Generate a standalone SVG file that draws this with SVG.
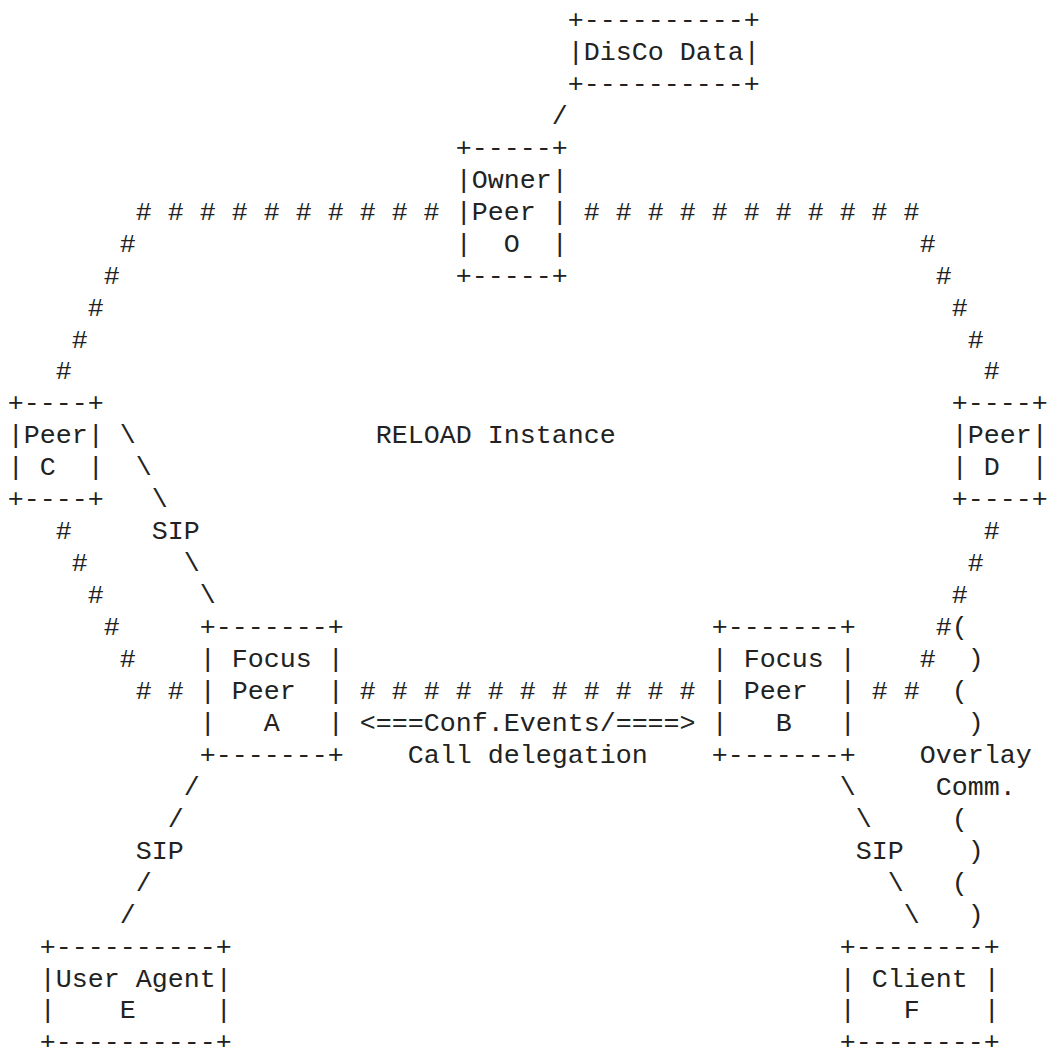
<svg xmlns="http://www.w3.org/2000/svg" width="1049" height="1047" viewBox="0 0 1049 1047">
<style>
text{font-family:"Liberation Mono","DejaVu Sans Mono",monospace;font-size:26.67px;fill:#222;white-space:pre}
</style>
<rect width="1049" height="1047" fill="#fff"/>
<g id="disco-data" xml:space="preserve">
<text x="567.7" y="28">+----------+</text>
<text x="567.7" y="60">|DisCo Data|</text>
<text x="567.7" y="91.9">+----------+</text>
</g>
<g id="owner-peer-o" xml:space="preserve">
<text x="455.7" y="155.8">+-----+</text>
<text x="455.7" y="187.75">|Owner|</text>
<text x="455.7" y="219.7">|Peer |</text>
<text x="455.7" y="251.65">|  O  |</text>
<text x="455.7" y="283.6">+-----+</text>
</g>
<g id="peer-c" xml:space="preserve">
<text x="7.7" y="411.4">+----+</text>
<text x="7.7" y="443.35">|Peer|</text>
<text x="7.7" y="475.3">| C  |</text>
<text x="7.7" y="507.25">+----+</text>
</g>
<g id="peer-d" xml:space="preserve">
<text x="951.7" y="411.4">+----+</text>
<text x="951.7" y="443.35">|Peer|</text>
<text x="951.7" y="475.3">| D  |</text>
<text x="951.7" y="507.25">+----+</text>
</g>
<g id="focus-peer-a" xml:space="preserve">
<text x="199.7" y="635.05">+-------+</text>
<text x="199.7" y="667">| Focus |</text>
<text x="199.7" y="698.95">| Peer  |</text>
<text x="199.7" y="730.9">|   A   |</text>
<text x="199.7" y="762.85">+-------+</text>
</g>
<g id="focus-peer-b" xml:space="preserve">
<text x="711.7" y="635.05">+-------+</text>
<text x="711.7" y="667">| Focus |</text>
<text x="711.7" y="698.95">| Peer  |</text>
<text x="711.7" y="730.9">|   B   |</text>
<text x="711.7" y="762.85">+-------+</text>
</g>
<g id="user-agent-e" xml:space="preserve">
<text x="39.7" y="954.55">+----------+</text>
<text x="39.7" y="986.5">|User Agent|</text>
<text x="39.7" y="1018.45">|    E     |</text>
<text x="39.7" y="1050.4">+----------+</text>
</g>
<g id="client-f" xml:space="preserve">
<text x="839.7" y="954.55">+--------+</text>
<text x="839.7" y="986.5">| Client |</text>
<text x="839.7" y="1018.45">|   F    |</text>
<text x="839.7" y="1050.4">+--------+</text>
</g>
<g id="reload-instance">
<text x="375.7" y="443.35">RELOAD Instance</text>
</g>
<g id="connectors" xml:space="preserve">
<text x="551.7" y="123.85">/</text>
<text x="135.7" y="219.7"># # # # # # # # # #</text>
<text x="583.7" y="219.7"># # # # # # # # # # #</text>
<text x="119.7" y="251.65">#</text><text x="919.7" y="251.65">#</text>
<text x="103.7" y="283.6">#</text><text x="935.7" y="283.6">#</text>
<text x="87.7" y="315.55">#</text><text x="951.7" y="315.55">#</text>
<text x="71.7" y="347.5">#</text><text x="967.7" y="347.5">#</text>
<text x="55.7" y="379.45">#</text><text x="983.7" y="379.45">#</text>
<text x="55.7" y="539.2">#</text><text x="983.7" y="539.2">#</text>
<text x="71.7" y="571.15">#</text><text x="967.7" y="571.15">#</text>
<text x="87.7" y="603.1">#</text><text x="951.7" y="603.1">#</text>
<text x="103.7" y="635.05">#</text><text x="935.7" y="635.05">#(</text>
<text x="119.7" y="667">#</text><text x="919.7" y="667">#  )</text>
<text x="135.7" y="698.95"># #</text>
<text x="359.7" y="698.95"># # # # # # # # # # #</text>
<text x="871.7" y="698.95"># #  (</text>
<text x="359.7" y="730.9">&lt;===Conf.Events/====&gt;</text>
<text x="967.7" y="730.9">)</text>
<text x="407.7" y="762.85">Call delegation</text>
<text x="919.7" y="762.85">Overlay</text>
<text x="935.7" y="794.8">Comm.</text>
<text x="951.7" y="826.75">(</text>
<text x="967.7" y="858.7">)</text>
<text x="951.7" y="890.65">(</text>
<text x="967.7" y="922.6">)</text>
<text x="119.7" y="443.35">\</text>
<text x="135.7" y="475.3">\</text>
<text x="151.7" y="507.25">\</text>
<text x="151.7" y="539.2">SIP</text>
<text x="183.7" y="571.15">\</text>
<text x="199.7" y="603.1">\</text>
<text x="183.7" y="794.8">/</text>
<text x="167.7" y="826.75">/</text>
<text x="135.7" y="858.7">SIP</text>
<text x="135.7" y="890.65">/</text>
<text x="119.7" y="922.6">/</text>
<text x="839.7" y="794.8">\</text>
<text x="855.7" y="826.75">\</text>
<text x="855.7" y="858.7">SIP</text>
<text x="887.7" y="890.65">\</text>
<text x="903.7" y="922.6">\</text>
</g>
</svg>
